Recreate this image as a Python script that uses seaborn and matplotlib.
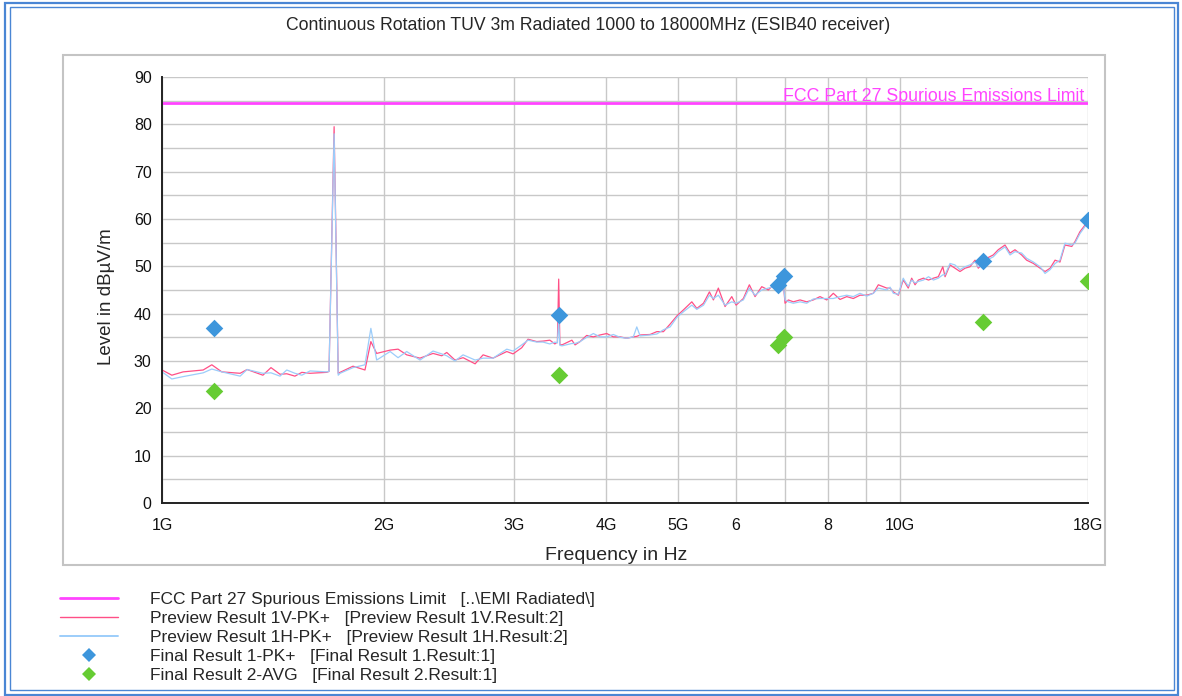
import matplotlib
matplotlib.use('Agg')
import matplotlib.pyplot as plt
import seaborn as sns
from matplotlib.lines import Line2D
from matplotlib.patches import Rectangle

# 스펙트럼 데이터 (GHz, dBuV/m)
freq_ghz = [1.000, 1.031, 1.068, 1.137, 1.168, 1.205, 1.276, 1.304, 1.370, 1.405,
            1.445, 1.476, 1.514, 1.547, 1.587, 1.672, 1.684, 1.711, 1.733, 1.743,
            1.815, 1.884, 1.919, 1.954, 2.038, 2.089, 2.146, 2.237, 2.330, 2.394,
            2.432, 2.495, 2.559, 2.657, 2.724, 2.810, 2.933, 2.991, 3.073, 3.134,
            3.220, 3.284, 3.355, 3.408, 3.435, 3.449, 3.462, 3.485, 3.594, 3.630,
            3.687, 3.764, 3.843, 3.924, 4.007, 4.090, 4.177, 4.265, 4.354, 4.401,
            4.447, 4.588, 4.685, 4.783, 4.884, 4.987, 5.091, 5.226, 5.308, 5.420,
            5.521, 5.590, 5.677, 5.797, 5.920, 6.000, 6.138, 6.254, 6.366, 6.501,
            6.636, 6.741, 6.847, 6.954, 6.991, 7.063, 7.174, 7.326, 7.480, 7.636,
            7.797, 7.962, 8.128, 8.299, 8.475, 8.651, 8.834, 9.021, 9.209, 9.354,
            9.603, 9.703, 9.803, 9.957, 10.11, 10.17, 10.27, 10.38, 10.49, 10.60,
            10.77, 10.94, 11.11, 11.28, 11.44, 11.52, 11.70, 11.88, 12.07, 12.26,
            12.45, 12.65, 12.78, 13.12, 13.39, 13.60, 13.89, 14.11, 14.33, 14.63,
            14.86, 15.18, 15.50, 15.74, 15.99, 16.24, 16.49, 16.75, 17.11, 17.28,
            17.55, 17.83, 18.00]

level_1v = [28.1, 27.0, 27.7, 28.1, 29.2, 27.7, 27.4, 28.2, 27.0, 28.6,
            27.2, 27.3, 26.8, 27.6, 27.4, 27.6, 27.8, 79.5, 27.4, 27.6,
            28.9, 28.1, 34.1, 31.6, 32.3, 32.5, 31.3, 30.6, 31.6, 31.1,
            31.8, 30.2, 30.7, 29.4, 31.3, 30.6, 32.0, 31.5, 32.8, 34.6,
            34.1, 34.2, 34.4, 33.6, 34.0, 47.3, 33.5, 33.4, 34.4, 33.4,
            34.1, 35.4, 35.1, 35.5, 35.8, 35.1, 35.1, 34.8, 35.1, 35.2,
            35.5, 35.6, 36.2, 36.2, 37.8, 39.5, 40.8, 42.5, 41.1, 42.2,
            44.6, 42.9, 45.4, 41.5, 43.6, 41.8, 43.2, 46.1, 43.6, 45.7,
            45.0, 46.1, 45.4, 46.4, 42.2, 42.9, 42.5, 42.9, 42.5, 42.9,
            43.6, 42.9, 44.3, 43.0, 43.6, 43.2, 43.9, 43.9, 44.3, 46.1,
            45.4, 45.4, 44.6, 43.9, 47.1, 46.5, 45.4, 47.5, 46.1, 47.1,
            47.5, 47.1, 47.5, 47.8, 49.9, 47.8, 50.3, 49.6, 48.9, 49.6,
            49.9, 51.3, 49.6, 51.7, 52.4, 53.5, 54.5, 52.8, 53.5, 52.4,
            51.3, 50.6, 49.6, 48.9, 49.6, 51.3, 50.9, 54.5, 54.2, 55.2,
            57.3, 58.7, 59.5]

level_1h = [27.7, 26.2, 26.7, 27.5, 28.3, 27.7, 26.8, 28.2, 27.4, 27.5,
            26.8, 28.1, 27.4, 27.0, 27.9, 27.7, 27.8, 78.0, 27.0, 27.4,
            28.6, 29.2, 36.9, 30.2, 32.0, 30.7, 32.0, 30.2, 32.1, 31.5,
            31.1, 30.0, 31.3, 30.2, 30.6, 30.6, 32.5, 32.1, 33.4, 34.4,
            34.0, 34.0, 33.6, 34.0, 33.8, 38.5, 33.3, 33.2, 33.7, 33.7,
            34.1, 35.0, 35.8, 35.1, 35.1, 35.6, 35.0, 34.8, 35.1, 37.2,
            35.3, 35.5, 35.7, 36.6, 37.2, 39.2, 40.4, 41.8, 40.9, 41.8,
            43.9, 43.2, 43.9, 41.8, 42.5, 42.2, 42.9, 45.4, 43.9, 45.0,
            45.4, 45.7, 45.0, 46.1, 42.9, 42.5, 42.2, 42.5, 42.2, 43.1,
            43.2, 43.2, 43.2, 43.6, 43.9, 43.6, 44.3, 43.7, 44.3, 45.4,
            45.0, 45.6, 44.3, 44.1, 47.5, 46.8, 45.8, 47.1, 46.5, 46.8,
            47.1, 47.8, 47.1, 47.5, 48.2, 48.2, 50.6, 50.3, 49.3, 49.9,
            50.3, 50.9, 49.9, 51.3, 52.0, 53.1, 54.1, 52.4, 53.1, 52.8,
            51.7, 50.9, 49.9, 48.5, 49.3, 50.6, 51.3, 54.9, 54.5, 54.9,
            56.9, 58.4, 59.1]

# 최종 측정점
pk_freq = [1.176, 3.452, 6.84, 6.97, 12.97, 18.0]
pk_level = [37.0, 39.7, 46.1, 48.0, 51.1, 59.8]
avg_freq = [1.176, 3.452, 6.84, 6.97, 12.97, 18.0]
avg_level = [23.7, 27.0, 33.4, 35.1, 38.2, 46.9]

# 한계선
limit_freq = [1.0, 18.0]
limit_level = [84.4, 84.4]

x_ticks = [1, 2, 3, 4, 5, 6, 7, 8, 9, 10, 18]
x_tick_labels = ['1G', '2G', '3G', '4G', '5G', '6', '', '8', '', '10G', '18G']

c_limit = '#ff44ff'
c_v = '#ff4f86'
c_h = '#9ccdfa'
c_pk = '#3d96dc'
c_avg = '#66cc33'

sns.set_style('white')
plt.rcParams['font.family'] = ['Liberation Sans', 'DejaVu Sans']

fig = plt.figure(figsize=(11.82, 6.96), dpi=100)

# 바깥 파란 테두리, 안쪽 회색 패널
fig.patches.append(Rectangle((0.004, 0.002), 0.993, 0.993, transform=fig.transFigure,
                             fill=False, edgecolor='#4a86d4', linewidth=1.6))
fig.patches.append(Rectangle((0.0085, 0.008), 0.985, 0.982, transform=fig.transFigure,
                             fill=False, edgecolor='#4a86d4', linewidth=1.0))
fig.patches.append(Rectangle((0.0533, 0.1882), 0.8816, 0.7328, transform=fig.transFigure,
                             fill=False, edgecolor='#c4c4c4', linewidth=1.5))

ax = fig.add_axes([0.1371, 0.2773, 0.7834, 0.6121])

sns.lineplot(x=limit_freq, y=limit_level, ax=ax, color=c_limit, linewidth=2.0)
sns.lineplot(x=freq_ghz, y=level_1v, ax=ax, color=c_v, linewidth=0.9, sort=False)
sns.lineplot(x=freq_ghz, y=level_1h, ax=ax, color=c_h, linewidth=0.9, sort=False)
sns.scatterplot(x=pk_freq, y=pk_level, ax=ax, marker='D', s=80, color=c_pk, linewidth=0, zorder=5)
sns.scatterplot(x=avg_freq, y=avg_level, ax=ax, marker='D', s=80, color=c_avg, linewidth=0, zorder=5)

ax.set_xscale('log')
ax.set_xlim(1, 18)
ax.set_ylim(0, 90)
ax.set_xticks(x_ticks)
ax.set_xticklabels(x_tick_labels)
ax.xaxis.set_minor_locator(matplotlib.ticker.NullLocator())
ax.set_yticks(range(0, 91, 10))
ax.set_yticks(range(5, 90, 10), minor=True)
ax.grid(True, which='both', color='#c8c8c8', linewidth=1.0)
ax.set_axisbelow(True)
ax.tick_params(axis='both', which='both', direction='inout', length=8, width=1.2,
               color='#222222', labelsize=11.5, colors='#111111')
ax.tick_params(axis='x', pad=6.5)
for s in ['top', 'right']:
    ax.spines[s].set_visible(False)
for s in ['left', 'bottom']:
    ax.spines[s].set_color('#222222')
    ax.spines[s].set_linewidth(1.4)

ax.text(17.8, 84.9, 'FCC Part 27 Spurious Emissions Limit', color=c_limit,
        ha='right', va='baseline', fontsize=12.8)

ax.set_xlabel('Frequency in Hz', fontsize=14)
ax.xaxis.set_label_coords(0.49, -0.1034)
ax.set_ylabel('Level in dB\u00b5V/m', fontsize=13.5)
ax.yaxis.set_label_coords(-0.0508, 0.484)

fig.text(0.4975, 0.964, 'Continuous Rotation TUV 3m Radiated 1000 to 18000MHz (ESIB40 receiver)',
         ha='center', va='center', fontsize=12.7)

# 범례
handles = [
    Line2D([], [], color=c_limit, linewidth=2.0),
    Line2D([], [], color=c_v, linewidth=1.0),
    Line2D([], [], color=c_h, linewidth=1.4),
    Line2D([], [], color=c_pk, marker='D', linestyle='None', markersize=7, markeredgewidth=0),
    Line2D([], [], color=c_avg, marker='D', linestyle='None', markersize=7, markeredgewidth=0),
]
labels = [
    'FCC Part 27 Spurious Emissions Limit   [..\\EMI Radiated\\]',
    'Preview Result 1V-PK+   [Preview Result 1V.Result:2]',
    'Preview Result 1H-PK+   [Preview Result 1H.Result:2]',
    'Final Result 1-PK+   [Final Result 1.Result:1]',
    'Final Result 2-AVG   [Final Result 2.Result:1]',
]
fig.legend(handles, labels, loc='upper left', bbox_to_anchor=(0.0508, 0.150),
           frameon=False, fontsize=12.5, handlelength=3.33, handletextpad=1.84,
           labelspacing=0.22, borderaxespad=0, borderpad=0)

fig.savefig('out.png', dpi=100)
